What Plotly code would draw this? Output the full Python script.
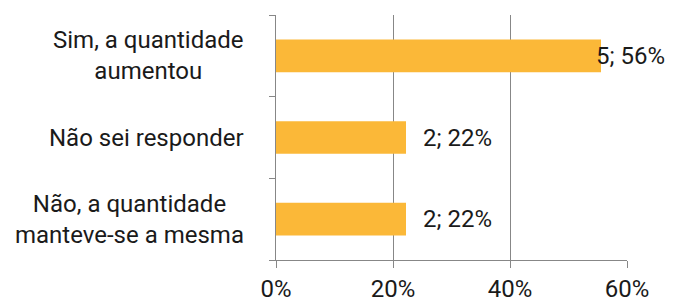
import plotly.graph_objects as go

categories = ["Não, a quantidade<br>manteve-se a mesma", "Não sei responder", "Sim, a quantidade<br>aumentou"]
counts = [2, 2, 5]
shares = [2/9, 2/9, 5/9]
x_ticks = [0, 0.2, 0.4, 0.6]
x_tick_labels = ["0%", "20%", "40%", "60%"]

FONT = "Roboto"
SIZE = 24
BAR = "#FBB838"
GRID = "#878787"
TXT = "#1a1a1a"

fig = go.Figure(go.Bar(
    y=categories, x=shares, orientation="h",
    marker=dict(color=BAR, line=dict(width=0)),
    width=0.4,
))

for c, v, n in zip(categories, shares, counts):
    top = v > 0.5
    fig.add_annotation(
        x=v, y=c, xref="x", yref="y",
        text=f"{n}; {round(v*100)}%",
        showarrow=False,
        xanchor="left",
        xshift=-7 if top else 15,
        font=dict(family=FONT, size=SIZE, color=TXT),
    )
    fig.add_annotation(
        x=0, y=c, xref="paper", yref="y",
        text=c, showarrow=False, align="center",
        xanchor="right", xshift=-30,
        font=dict(family=FONT, size=SIZE, color=TXT),
    )

fig.update_layout(
    width=667, height=295,
    margin=dict(l=268, r=48, t=7, b=43),
    paper_bgcolor="white", plot_bgcolor="white",
    showlegend=False,
    font=dict(family=FONT, size=SIZE, color=TXT),
    xaxis=dict(
        range=[0, 0.6], tickvals=x_ticks, ticktext=x_tick_labels,
        showgrid=True, gridcolor=GRID, gridwidth=1,
        showline=True, linecolor=GRID, linewidth=1,
        ticks="outside", ticklen=7, tickcolor=GRID,
        zeroline=False, automargin=False,
    ),
    yaxis=dict(
        showline=True, linecolor=GRID, linewidth=1,
        ticks="outside", ticklen=6, tickcolor=GRID,
        tickson="boundaries", showgrid=False,
        showticklabels=False, automargin=False,
    ),
)

fig.write_html("out.html")
